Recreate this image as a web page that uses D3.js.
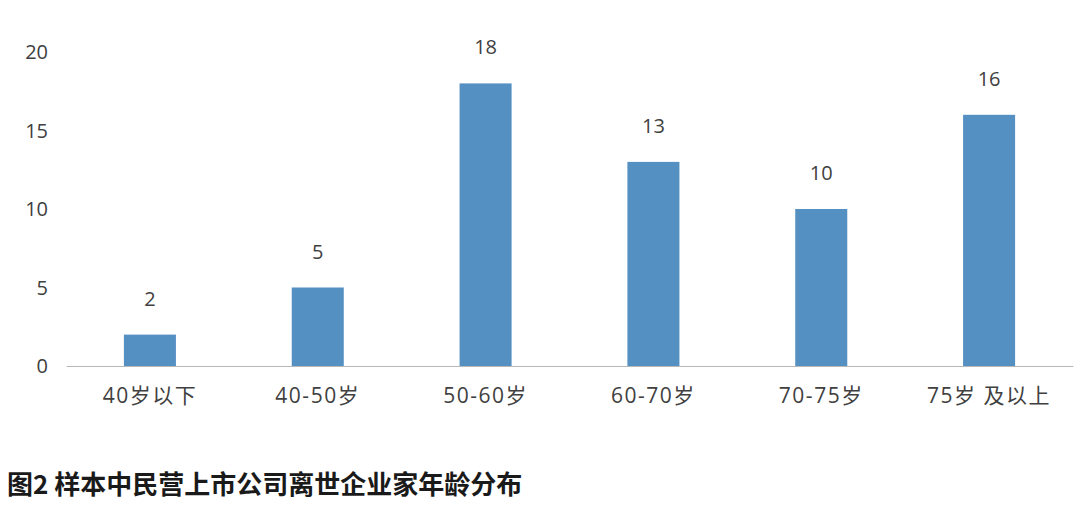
<!DOCTYPE html>
<html>
<head>
<meta charset="utf-8">
<script src="https://cdn.jsdelivr.net/npm/d3@7"></script>
<style>
  body { margin: 0; background: #fff; }
  svg text { font-family: "Open Sans", "Noto Sans CJK SC", sans-serif; }
</style>
</head>
<body>
<div id="chart"></div>
<script>
const categories = ["40岁以下", "40-50岁", "50-60岁", "60-70岁", "70-75岁", "75岁 及以上"];
const counts = [2, 5, 18, 13, 10, 16];
const yTicks = [0, 5, 10, 15, 20];
const titleText = "图2 样本中民营上市公司离世企业家年龄分布";

const W = 1080, H = 505;
const MARGIN = { LEFT: 66, RIGHT: 7, TOP: 52, BOTTOM: 139 };
const WIDTH = W - MARGIN.LEFT - MARGIN.RIGHT;
const HEIGHT = H - MARGIN.TOP - MARGIN.BOTTOM;

const svg = d3.select("#chart").append("svg")
  .attr("width", W).attr("height", H);

const g = svg.append("g")
  .attr("transform", `translate(${MARGIN.LEFT}, ${MARGIN.TOP})`);

const x = d3.scaleBand()
  .domain(categories)
  .range([0, WIDTH])
  .paddingInner(0.69)
  .paddingOuter(0.345);

const y = d3.scaleLinear().domain([0, 20]).range([HEIGHT, 0]);

// y tick labels only, no axis line
g.append("g")
  .selectAll("text")
  .data(yTicks)
  .enter()
  .append("text")
  .attr("x", -18)
  .attr("y", (d) => y(d))
  .attr("dy", "0.35em")
  .attr("text-anchor", "end")
  .style("font-size", "20px")
  .style("fill", "#404040")
  .text((d) => d);

// bars
g.append("g")
  .selectAll("rect")
  .data(counts)
  .enter()
  .append("rect")
  .attr("x", (d, i) => x(categories[i]))
  .attr("y", (d) => y(d))
  .attr("width", x.bandwidth())
  .attr("height", (d) => HEIGHT - y(d))
  .style("fill", "#5590c2");

// value labels
g.append("g")
  .selectAll("text")
  .data(counts)
  .enter()
  .append("text")
  .attr("x", (d, i) => x(categories[i]) + x.bandwidth() / 2)
  .attr("y", (d) => y(d) - 36)
  .attr("dy", "0.35em")
  .attr("text-anchor", "middle")
  .style("font-size", "20px")
  .style("fill", "#404040")
  .text((d) => d);

// x axis
const xAxis = g.append("g")
  .attr("transform", `translate(0, ${HEIGHT})`)
  .call(d3.axisBottom(x).tickSize(0).tickPadding(22));
xAxis.select(".domain").attr("stroke", "#b8b8b8").attr("stroke-width", 1.2);
xAxis.selectAll("text")
  .style("font-size", "21px")
  .style("letter-spacing", "1.5px")
  .style("fill", "#404040");

// title
svg.append("text")
  .attr("x", 7)
  .attr("y", 494)
  .style("font-size", "26px")
  .style("font-weight", "bold")
  .style("fill", "#1a1a1a")
  .style("font-family", "'Noto Sans CJK SC', sans-serif")
  .text(titleText);
</script>
</body>
</html>
